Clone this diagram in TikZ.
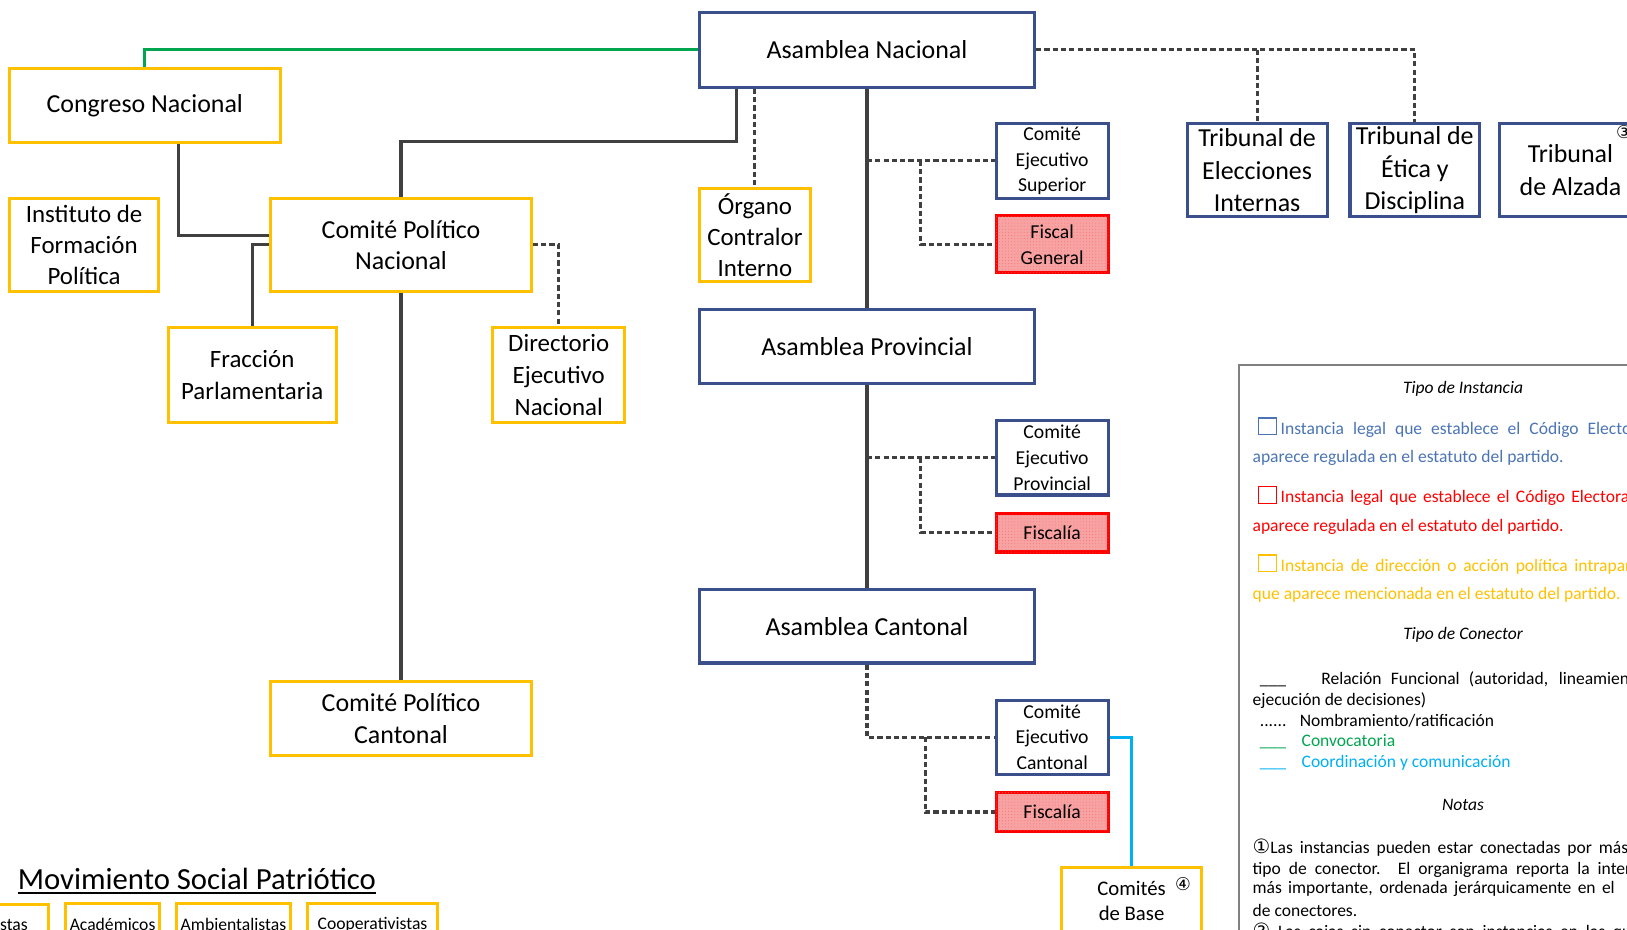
\documentclass[tikz,border=0pt]{standalone}
\usepackage{fontspec}
\setmainfont{Carlito}
\newfontfamily\symfont{DejaVu Sans}
\usetikzlibrary{patterns}
\definecolor{bluebox}{HTML}{3A4F8C}
\definecolor{yellowbox}{HTML}{FFC000}
\definecolor{redbox}{HTML}{FF0000}
\definecolor{redfill}{HTML}{F7A3A3}
\definecolor{lineg}{HTML}{404040}
\definecolor{greenl}{HTML}{00A550}
\definecolor{cyanl}{HTML}{00B0F0}
\definecolor{legblue}{HTML}{4A74B4}
\definecolor{leggray}{HTML}{808080}
\tikzset{
 box/.style={draw, line width=3pt, fill=white, align=center, inner sep=0pt, font=\fontsize{25}{30}\selectfont},
 bbox/.style={box, draw=bluebox},
 ybox/.style={box, draw=yellowbox},
 rbox/.style={box, draw=redbox, fill=redfill, postaction={pattern=dots, pattern color=red!55}},
 smallf/.style={font=\fontsize{19}{25}\selectfont},
 tinyf/.style={font=\fontsize{17}{20}\selectfont},
 func/.style={draw=lineg, line width=3pt},
 nomb/.style={draw=lineg, line width=3pt, dash pattern=on 5pt off 3pt},
 conv/.style={draw=greenl, line width=3pt},
 coordl/.style={draw=cyanl, line width=3pt},
 leg/.style={anchor=west, inner sep=0pt, font=\fontsize{16.9}{20}\selectfont},
 legc/.style={inner sep=0pt, font=\fontsize{16.9}{20}\selectfont\itshape},
 circnum/.style={inner sep=0pt, font=\symfont\fontsize{17}{17}\selectfont},
}
\begin{document}
\begin{tikzpicture}[x=1pt,y=-1pt]
\useasboundingbox (0,0) rectangle (1568,896);
\clip (0,0) rectangle (1568,896);

% main boxes
\node[bbox, minimum width=323pt, minimum height=72pt] (AN) at (835.5,48) {Asamblea Nacional};
\node[ybox, minimum width=261pt, minimum height=71pt] (CN) at (139.5,101.5) {Congreso Nacional};
\node[ybox, minimum width=144pt, minimum height=90pt, font=\fontsize{24}{30}\selectfont] (IFP) at (81,236) {Instituto de\\Formación\\Política};
\node[ybox, minimum width=251pt, minimum height=90pt] (CPN) at (386.5,236) {Comité Político\\Nacional};
\node[ybox, minimum width=162pt, minimum height=91pt, font=\fontsize{24}{31}\selectfont] (FP) at (243,361.5) {Fracción\\Parlamentaria};
\node[ybox, minimum width=127pt, minimum height=91pt, font=\fontsize{24}{30.5}\selectfont] (DEN) at (538.5,361.5) {Directorio\\Ejecutivo\\Nacional};
\node[ybox, minimum width=107pt, minimum height=89pt, font=\fontsize{24}{30}\selectfont] (OCI) at (727.5,226.5) {Órgano\\Contralor\\Interno};
\node[bbox, smallf, minimum width=108pt, minimum height=72pt] (CES) at (1014,155) {Comité\\Ejecutivo\\Superior};
\node[rbox, smallf, minimum width=108pt, minimum height=55pt] (FG) at (1014,235.5) {Fiscal\\General};
\node[bbox, minimum width=323pt, minimum height=72pt] (AP) at (835.5,334) {Asamblea Provincial};
\node[bbox, smallf, minimum width=108pt, minimum height=72pt] (CEP) at (1014,441) {Comité\\Ejecutivo\\Provincial};
\node[rbox, smallf, minimum width=108pt, minimum height=37pt] (FP2) at (1014,513.5) {Fiscalía};
\node[bbox, minimum width=323pt, minimum height=71pt] (AC) at (835.5,603.5) {Asamblea Cantonal};
\node[bbox, smallf, minimum width=108pt, minimum height=71pt] (CEC) at (1014,710.5) {Comité\\Ejecutivo\\Cantonal};
\node[rbox, smallf, minimum width=108pt, minimum height=37pt] (FC2) at (1014,782.5) {Fiscalía};
\node[ybox, minimum width=251pt, minimum height=71pt] (CPC) at (386.5,692.5) {Comité Político\\Cantonal};
\node[ybox, minimum width=135pt, minimum height=64pt, font=\fontsize{20}{24}\selectfont] (CB) at (1090.5,868) {Comités\\de Base};
\node[circnum] (c4) at (1140,852) {④};
\node[bbox, minimum width=135pt, minimum height=90pt, font=\fontsize{25}{31}\selectfont] (TEI) at (1211.5,164) {Tribunal de\\Elecciones\\Internas};
\node[bbox, minimum width=125pt, minimum height=90pt, font=\fontsize{25}{31}\selectfont] (TED) at (1363.5,164) {Tribunal de\\Ética y\\Disciplina};
\node[bbox, minimum width=137pt, minimum height=90pt, font=\fontsize{25}{31}\selectfont] (TA) at (1513.5,164) {Tribunal\\de Alzada};
\node[circnum] (c3) at (1565,127) {③};

% connectors
\draw[conv] (AN.west) -| (CN.north);
\draw[func] ([xshift=32.5pt]CN.south) |- ([yshift=9pt]CPN.west);
\draw[func] (FP.north) |- (CPN.west);
\draw[nomb] (CPN.east) -| (DEN.north);
\draw[func] ([xshift=-126pt]AN.south) |- ([yshift=53.5pt]CPN.north) -- (CPN.north);
\draw[nomb] (OCI.north |- AN.south) -- (OCI.north);
\draw[func] (AN.south) -- (AP.north);
\draw[nomb] (AN.south |- CES.west) -- (CES.west);
\coordinate (br1) at ([xshift=-71pt]CES.west);
\draw[nomb] (br1) |- (FG.west);
\draw[func] (AP.south) -- (AC.north);
\draw[nomb] (AP.south |- CEP.west) -- (CEP.west);
\coordinate (br2) at ([xshift=-71pt]CEP.west);
\draw[nomb] (br2) |- (FP2.west);
\draw[nomb] (AC.south) |- (CEC.west);
\coordinate (br3) at ([xshift=-67pt]CEC.west);
\draw[nomb] (br3) |- (FC2.west);
\draw[func] (CPN.south) -- (CPC.north);
\draw[coordl] (CEC.east) -| (CB.north);
\draw[nomb] (AN.east) -| (TED.north);
\draw[nomb] (TEI.north |- AN.east) -- (TEI.north);

% Movimiento Social Patriotico
\node[anchor=base west, inner sep=0pt, font=\fontsize{29.6}{34}\selectfont] (msp) at (17,857.5) {Movimiento Social Patriótico};
\draw[line width=1.6pt] ([yshift=-3.3pt]msp.base west) -- ([yshift=-3.3pt]msp.base east);
\node[ybox, tinyf, minimum width=80pt, minimum height=48pt] (b0) at (7,896) {};
\node[anchor=east, inner sep=0pt, tinyf] (b0t) at (27,891) {stas};
\node[ybox, tinyf, minimum width=91pt, minimum height=40pt] (b1) at (108.5,891) {Académicos};
\node[ybox, tinyf, minimum width=110pt, minimum height=40pt] (b2) at (225,891) {Ambientalistas};
\node[ybox, tinyf, minimum width=126pt, minimum height=40pt] (b3) at (359,891) {Cooperativistas};

% legend
\draw[leggray, line width=2pt] (1194,352) rectangle (1620,940);
\node[legc] (t1) at (1410,375) {Tipo de Instancia};
\draw[legblue, line width=1.4pt] (1213,403) rectangle (1230,419);
\node[leg, text=legblue] (l1) at (1234,414.5) {\makebox[338pt][s]{Instancia legal que establece el Código Electo}};
\node[leg, text=legblue] (l2) at (1207,441.5) {aparece regulada en el estatuto del partido.};
\draw[redbox, line width=1.4pt] (1213,469) rectangle (1230,485);
\node[leg, text=redbox] (l3) at (1234,480) {\makebox[336pt][s]{Instancia legal que establece el Código Electora}};
\node[leg, text=redbox] (l4) at (1207,508) {aparece regulada en el estatuto del partido.};
\draw[yellowbox, line width=1.4pt] (1213,535) rectangle (1230,551);
\node[leg, text=yellowbox] (l5) at (1234,546) {\makebox[338pt][s]{Instancia de dirección o acción política intrapar}};
\node[leg, text=yellowbox] (l6) at (1207,573.5) {que aparece mencionada en el estatuto del partido.};
\node[legc] (t2) at (1410,612) {Tipo de Conector};
\node[leg] (l7) at (1214,655) {\makebox[356pt][s]{\_\_\_\hspace{25pt} Relación Funcional (autoridad, lineamien}};
\node[leg] (l8) at (1207,675) {ejecución de decisiones)};
\node[leg] (l9) at (1214,695) {......\hspace{13pt}Nombramiento/ratificación};
\node[leg, text=greenl] (l10) at (1214,715) {\_\_\_\hspace{15pt}Convocatoria};
\node[leg, text=cyanl] (l11) at (1214,735) {\_\_\_\hspace{15pt}Coordinación y comunicación};
\node[legc] (t3) at (1410,776) {Notas};
\node[leg] (n1) at (1207,817) {\makebox[362pt][s]{{\symfont\fontsize{19}{19}\selectfont ①}Las instancias pueden estar conectadas por más}};
\node[leg] (n2) at (1207,838) {\makebox[365pt][s]{tipo de conector. El organigrama reporta la inter}};
\node[leg] (n3) at (1207,857) {\makebox[349pt][s]{más importante, ordenada jerárquicamente en el}};
\node[leg] (n4) at (1207,877) {de conectores.};
\node[leg] (n5) at (1207,898) {\makebox[365pt][s]{{\symfont\fontsize{19}{19}\selectfont ②} Las cajas sin conector son instancias en las qu}};
\end{tikzpicture}
\end{document}
